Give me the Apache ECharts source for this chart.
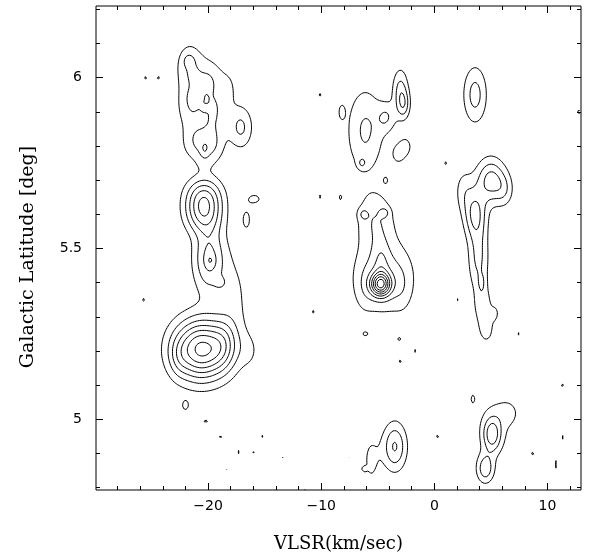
<!DOCTYPE html>
<html>
<head>
<meta charset="utf-8">
<script src="https://cdn.jsdelivr.net/npm/echarts@6/dist/echarts.min.js"></script>
<style>
  html, body { margin: 0; padding: 0; background: #fff; }
  #chart { width: 589px; height: 558px; }
</style>
</head>
<body>
<div id="chart"></div>
<script>
// emission components: [vlsr, latitude, sigmaV, sigmaB, peak]
const leftColumn = [
  [-21.6, 6.035, 0.9, 0.05, 1.85],
  [-19.8, 6.00, 0.8, 0.04, 1.55],
  [-21.5, 5.92, 0.9, 0.05, 1.85],
  [-19.4, 5.90, 0.8, 0.05, 1.8],
  [-21.1, 5.81, 0.9, 0.04, 1.7],
  [-19.6, 5.80, 0.8, 0.04, 1.65],
  [-18.2, 5.97, 0.6, 0.04, 1.0],
  [-17.1, 5.855, 0.75, 0.045, 2.2],
  [-21.7, 6.05, 0.3, 0.012, 1.0],
  [-21.1, 5.94, 0.35, 0.015, 0.9],
  [-20.3, 5.91, 0.2, 0.006, 1.0],
  [-20.3, 5.79, 0.25, 0.015, 0.9],
  [-20.4, 5.75, 0.5, 0.02, 0.45],
  [-20.35, 5.665, 1.14, 0.035, 2.65],
  [-20.4, 5.625, 1.14, 0.035, 2.65],
  [-20.4, 5.585, 1.14, 0.035, 2.3],
  [-19.9, 5.47, 1.0, 0.07, 3.3],
  [-19.8, 5.465, 0.25, 0.012, 0.8],
  [-18.9, 5.40, 0.35, 0.012, 0.9],
  [-17.6, 5.36, 1.0, 0.10, 1.1],
  [-20.6, 5.205, 1.75, 0.062, 7.3],
  [-18.6, 5.22, 0.8, 0.05, 1.5],
  [-22.6, 5.18, 0.6, 0.04, 0.8],
  [-16.3, 5.2, 0.7, 0.04, 0.8],
  [-22.0, 5.04, 0.3, 0.015, 1.2],
  [-15.9, 5.645, 0.6, 0.015, 1.25],
  [-16.6, 5.585, 0.35, 0.028, 1.25]
];

const middleColumn = [
  [-4.5, 5.42, 1.8, 0.075, 2.6],
  [-6.2, 5.38, 0.6, 0.05, 0.6],
  [-2.8, 5.38, 0.6, 0.05, 0.6],
  [-5.2, 5.585, 1.2, 0.06, 1.8],
  [-6.3, 5.60, 0.3, 0.012, 1.1],
  [-4.4, 5.605, 0.3, 0.01, 1.1],
  [-4.7, 5.46, 0.45, 0.045, 1.0],
  [-4.75, 5.395, 0.6, 0.023, 6.0],
  [-6.1, 5.845, 1.17, 0.09, 2.15],
  [-6.4, 5.75, 0.25, 0.01, 1.2],
  [-3.0, 5.965, 0.5, 0.045, 2.2],
  [-2.7, 5.92, 0.4, 0.03, 2.0],
  [-4.2, 5.885, 0.6, 0.03, 1.6],
  [-3.2, 5.775, 0.5, 0.025, 1.15],
  [-2.5, 5.80, 0.5, 0.025, 1.15],
  [-8.2, 5.90, 0.25, 0.02, 1.1],
  [-4.3, 5.70, 0.15, 0.008, 1.2],
  [-3.5, 4.92, 0.75, 0.05, 3.1],
  [-5.6, 4.88, 0.6, 0.06, 1.2]
];

const rightColumn = [
  [3.6, 5.95, 0.75, 0.06, 2.4],
  [5.0, 5.70, 0.9, 0.045, 3.4],
  [3.6, 5.60, 0.7, 0.05, 3.0],
  [2.6, 5.67, 0.6, 0.045, 1.3],
  [6.2, 5.67, 0.6, 0.035, 1.3],
  [3.9, 5.47, 0.65, 0.07, 2.2],
  [4.3, 5.33, 0.55, 0.04, 1.6],
  [4.6, 5.26, 0.5, 0.03, 1.3],
  [4.2, 5.40, 0.25, 0.02, 0.8],
  [5.4, 5.31, 0.3, 0.02, 1.0],
  [5.1, 4.955, 0.55, 0.035, 3.0],
  [4.5, 4.855, 0.55, 0.03, 2.6],
  [5.3, 4.98, 1.3, 0.07, 1.0],
  [6.6, 5.02, 0.8, 0.03, 0.9],
  [3.4, 5.06, 0.2, 0.015, 1.1]
];

const specks = [
  [-25.5, 6.0, 0.15, 0.005, 1.3],
  [-24.4, 6.0, 0.15, 0.005, 1.3],
  [-25.7, 5.35, 0.15, 0.005, 1.3],
  [-10.1, 5.95, 0.15, 0.005, 1.3],
  [-10.1, 5.652, 0.15, 0.012, 1.1],
  [-8.3, 5.65, 0.2, 0.012, 1.1],
  [1.0, 5.75, 0.15, 0.005, 1.3],
  [-20.2, 4.995, 0.45, 0.006, 1.1],
  [-18.9, 4.95, 0.4, 0.006, 1.1],
  [-15.2, 4.95, 0.15, 0.005, 1.2],
  [-17.3, 4.904, 0.12, 0.012, 1.1],
  [-16.0, 4.904, 0.15, 0.005, 1.2],
  [-13.35, 4.89, 0.12, 0.018, 1.1],
  [-18.3, 4.855, 0.2, 0.006, 1.1],
  [-12.1, 5.355, 0.1, 0.014, 1.1],
  [-10.7, 5.315, 0.15, 0.005, 1.3],
  [-11.4, 4.792, 0.2, 0.008, 1.08],
  [-6.1, 5.25, 0.3, 0.008, 1.1],
  [-3.1, 5.235, 0.15, 0.005, 1.3],
  [-1.7, 5.20, 0.12, 0.01, 1.1],
  [-3.0, 5.17, 0.15, 0.005, 1.3],
  [-7.5, 4.89, 0.12, 0.012, 1.1],
  [-6.2, 4.855, 0.15, 0.005, 1.3],
  [0.3, 4.95, 0.15, 0.005, 1.3],
  [2.1, 5.35, 0.15, 0.01, 1.1],
  [7.4, 5.25, 0.15, 0.015, 1.1],
  [8.7, 4.90, 0.15, 0.005, 1.3],
  [11.3, 4.947, 0.15, 0.02, 1.1],
  [10.7, 4.868, 0.15, 0.04, 1.1],
  [11.3, 5.10, 0.15, 0.005, 1.3],
  [12.8, 5.90, 0.3, 0.012, 1.1],
  [2.1, 4.79, 0.2, 0.01, 1.1]
];

const levels = [1, 2, 3, 4, 5, 6, 7, 8, 9];

const majorX = [-20, -10, 0, 10];
const minorX = [-28, -26, -24, -22, -18, -16, -14, -12, -8, -6, -4, -2, 2, 4, 6, 8, 12];
const majorY = [5, 5.5, 6];
const minorY = [4.8, 4.9, 5.1, 5.2, 5.3, 5.4, 5.6, 5.7, 5.8, 5.9, 6.1, 6.2];

const V_MIN = -29.9, V_MAX = 12.96, B_MIN = 4.793, B_MAX = 6.21;

// sample the map on a grid
const DV = 0.15, DB = 0.005;
const nx = Math.floor((V_MAX - V_MIN) / DV) + 1;
const ny = Math.floor((B_MAX - B_MIN) / DB) + 1;
const field = new Float64Array(nx * ny);
[...leftColumn, ...middleColumn, ...rightColumn, ...specks].forEach(([v0, b0, sv, sb, amp]) => {
  const i0 = Math.max(0, Math.floor((v0 - 4 * sv - V_MIN) / DV));
  const i1 = Math.min(nx - 1, Math.ceil((v0 + 4 * sv - V_MIN) / DV));
  const j0 = Math.max(0, Math.floor((b0 - 4 * sb - B_MIN) / DB));
  const j1 = Math.min(ny - 1, Math.ceil((b0 + 4 * sb - B_MIN) / DB));
  for (let j = j0; j <= j1; j++) {
    const dy = (B_MIN + j * DB - b0) / sb;
    for (let i = i0; i <= i1; i++) {
      const dx = (V_MIN + i * DV - v0) / sv;
      field[j * nx + i] += amp * Math.exp(-0.5 * (dx * dx + dy * dy));
    }
  }
});

// marching squares, segments chained into polylines
function contour(L) {
  const z = (i, j) => field[j * nx + i];
  const pts = new Map();
  const point = (key, i, j, horizontal) => {
    if (pts.has(key)) return;
    const a = z(i, j), b = horizontal ? z(i + 1, j) : z(i, j + 1);
    const t = (L - a) / (b - a);
    pts.set(key, horizontal
      ? [V_MIN + (i + t) * DV, B_MIN + j * DB]
      : [V_MIN + i * DV, B_MIN + (j + t) * DB]);
  };
  const segs = [];
  for (let j = 0; j < ny - 1; j++) {
    for (let i = 0; i < nx - 1; i++) {
      const a = z(i, j), b = z(i + 1, j), c = z(i + 1, j + 1), d = z(i, j + 1);
      const idx = (a > L ? 1 : 0) | (b > L ? 2 : 0) | (c > L ? 4 : 0) | (d > L ? 8 : 0);
      if (idx === 0 || idx === 15) continue;
      const e = [
        'h' + i + '_' + j, 'v' + (i + 1) + '_' + j,
        'h' + i + '_' + (j + 1), 'v' + i + '_' + j
      ];
      const mk = (p, q) => {
        [p, q].forEach(k => {
          if (k === 0) point(e[0], i, j, true);
          else if (k === 1) point(e[1], i + 1, j, false);
          else if (k === 2) point(e[2], i, j + 1, true);
          else point(e[3], i, j, false);
        });
        segs.push([e[p], e[q]]);
      };
      const mid = (a + b + c + d) / 4 > L;
      switch (idx) {
        case 1: case 14: mk(3, 0); break;
        case 2: case 13: mk(0, 1); break;
        case 3: case 12: mk(3, 1); break;
        case 4: case 11: mk(1, 2); break;
        case 6: case 9: mk(0, 2); break;
        case 7: case 8: mk(3, 2); break;
        case 5: if (mid) { mk(0, 1); mk(2, 3); } else { mk(3, 0); mk(1, 2); } break;
        case 10: if (mid) { mk(3, 0); mk(1, 2); } else { mk(0, 1); mk(2, 3); } break;
      }
    }
  }
  const adj = new Map();
  segs.forEach((s, k) => s.forEach(key => {
    if (!adj.has(key)) adj.set(key, []);
    adj.get(key).push(k);
  }));
  const used = new Uint8Array(segs.length);
  const extend = path => {
    let last = path[path.length - 1];
    for (;;) {
      const nb = (adj.get(last) || []).find(k => !used[k]);
      if (nb === undefined) break;
      used[nb] = 1;
      const s = segs[nb];
      last = s[0] === last ? s[1] : s[0];
      path.push(last);
    }
  };
  const paths = [];
  segs.forEach((s, k) => {
    if (used[k]) return;
    used[k] = 1;
    const path = [s[0], s[1]];
    extend(path);
    path.reverse();
    extend(path);
    paths.push(path.map(key => pts.get(key)));
  });
  return paths;
}

const contourData = [];
levels.forEach(L => contour(L).forEach(p => contourData.push({ coords: p })));

const chart = echarts.init(document.getElementById('chart'));
const labelFont = { color: '#000', fontFamily: 'DejaVu Sans', fontSize: 14 };
const minus = v => String(v).replace('-', '\u2212');

function xAxisAt(position, ticks, len, withLabels) {
  return {
    type: 'value', position, min: V_MIN, max: V_MAX,
    axisLine: { show: false, onZero: false }, splitLine: { show: false },
    axisTick: { show: true, inside: true, length: len, customValues: ticks, lineStyle: { color: '#000', width: 1 } },
    axisLabel: { show: withLabels, customValues: ticks, margin: 9, formatter: minus, ...labelFont }
  };
}
function yAxisAt(position, ticks, len, withLabels) {
  return {
    type: 'value', position, min: B_MIN, max: B_MAX,
    axisLine: { show: false, onZero: false }, splitLine: { show: false },
    axisTick: { show: true, inside: true, length: len, customValues: ticks, lineStyle: { color: '#000', width: 1 } },
    axisLabel: { show: withLabels, customValues: ticks, margin: 14, formatter: v => String(v), ...labelFont }
  };
}

const xMain = xAxisAt('bottom', majorX, 7, true);
xMain.name = 'VLSR(km/sec)';
xMain.nameLocation = 'middle';
xMain.nameGap = 45;
xMain.nameTextStyle = { color: '#000', fontFamily: 'DejaVu Serif', fontSize: 18 };
const yMain = yAxisAt('left', majorY, 7, true);
yMain.name = 'Galactic Latitude [deg]';
yMain.nameLocation = 'middle';
yMain.nameGap = 58;
yMain.nameTextStyle = { color: '#000', fontFamily: 'DejaVu Serif', fontSize: 19, padding: [0, 18, 0, 0] };

chart.setOption({
  animation: false,
  backgroundColor: '#fff',
  grid: { left: 96, right: 8, top: 6, bottom: 67, show: true, borderColor: '#000', borderWidth: 1 },
  xAxis: [
    xMain,
    xAxisAt('bottom', minorX, 4, false),
    xAxisAt('top', majorX, 7, false),
    xAxisAt('top', minorX, 4, false)
  ],
  yAxis: [
    yMain,
    yAxisAt('left', minorY, 4, false),
    yAxisAt('right', majorY, 7, false),
    yAxisAt('right', minorY, 4, false)
  ],
  series: [{
    type: 'lines',
    coordinateSystem: 'cartesian2d',
    xAxisIndex: 0,
    yAxisIndex: 0,
    polyline: true,
    silent: true,
    lineStyle: { color: '#000', width: 1, opacity: 1 },
    data: contourData
  }]
});
</script>
</body>
</html>
